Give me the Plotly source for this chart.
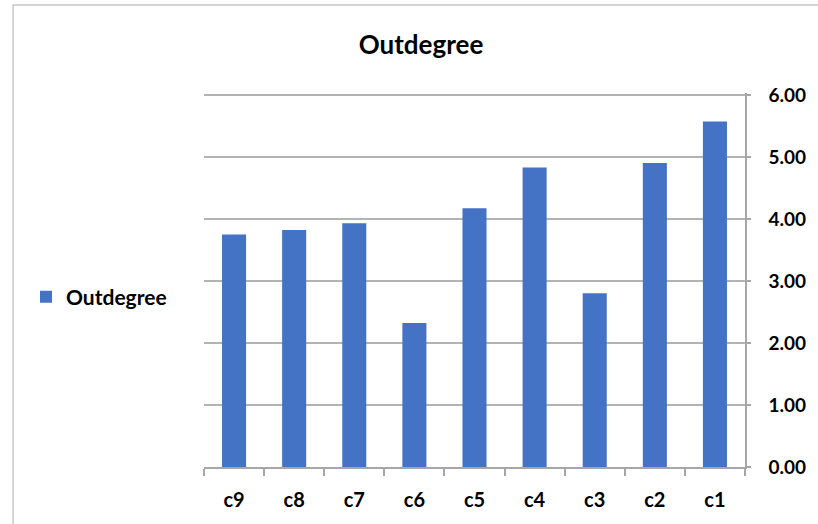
import plotly.graph_objects as go

categories = ["c9", "c8", "c7", "c6", "c5", "c4", "c3", "c2", "c1"]
outdegree = [3.75, 3.82, 3.93, 2.32, 4.17, 4.83, 2.80, 4.90, 5.57]
y_ticks = [0, 1, 2, 3, 4, 5, 6]

W, H = 818, 524
L, R, T, B = 204, 70, 93, 57

FONT = "Lato, 'Open Sans', 'Liberation Sans', sans-serif"

fig = go.Figure(
    go.Bar(
        x=categories,
        y=outdegree,
        name="Outdegree",
        marker=dict(color="#4472C4", line=dict(width=0)),
        showlegend=True,
    )
)

pw = W - L - R
ph = H - T - B
fig.add_shape(
    type="rect", xref="paper", yref="paper",
    x0=(12 - L) / pw, x1=(W + 20 - L) / pw,
    y0=-(H + 20 - (H - B)) / ph, y1=1 + (T - 5) / ph,
    line=dict(color="#c8c8c8", width=1.5), fillcolor="rgba(0,0,0,0)",
    layer="below",
)

fig.update_layout(
    width=W, height=H,
    margin=dict(l=L, r=R, t=T, b=B),
    paper_bgcolor="white", plot_bgcolor="white",
    bargap=0.6,
    font=dict(family=FONT, color="black", size=19, weight="bold"),
    title=dict(
        text="Outdegree", x=421 / W, xanchor="center",
        y=1 - 45 / H, yanchor="middle", xref="container", yref="container",
        font=dict(family=FONT, size=26, color="black", weight="bold"),
    ),
    legend=dict(
        x=26 / W, y=1 - 297 / H, xref="container", yref="container",
        xanchor="left", yanchor="middle",
        font=dict(family=FONT, size=21, color="black", weight="bold"),
        bgcolor="rgba(0,0,0,0)",
    ),
    xaxis=dict(
        showline=True, linecolor="#a6a6a6", linewidth=1.5,
        ticks="outside", tickson="boundaries", ticklen=7, tickcolor="#a6a6a6",
        tickwidth=1.5, showgrid=False, ticklabelstandoff=14,
        tickfont=dict(family=FONT, size=20, color="black", weight="bold"),
    ),
    yaxis=dict(
        side="right", range=[0, 6.03], tickvals=y_ticks, tickformat=".2f",
        showline=True, linecolor="#a6a6a6", linewidth=1.5,
        ticks="outside", ticklen=4, tickcolor="#a6a6a6", tickwidth=1.5,
        showgrid=True, gridcolor="#b3b3b3", gridwidth=1.5, zeroline=False,
        ticklabelstandoff=14,
        tickfont=dict(family=FONT, size=19, color="black", weight="bold"),
    ),
)

fig.write_html(
    "out.html",
    config={"displayModeBar": False},
    post_script="document.body.style.margin='0';",
)
